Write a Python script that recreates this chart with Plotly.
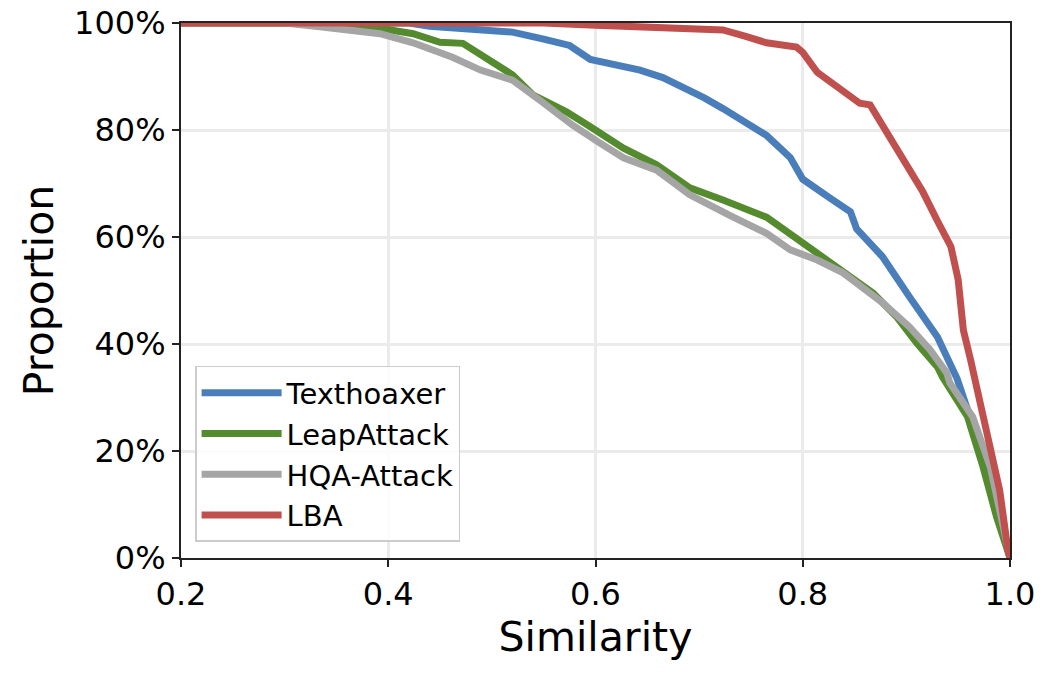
import plotly.graph_objects as go

# Texthoaxer
tx_x = [0.2, 0.42, 0.44, 0.48, 0.52, 0.55, 0.575, 0.595, 0.62, 0.643, 0.665, 0.691, 0.705, 0.723, 0.745, 0.765, 0.788, 0.800, 0.826, 0.846, 0.852, 0.877, 0.903, 0.930, 0.949, 0.962, 0.976, 0.99, 1.0]
tx_y = [100, 100, 99.4, 99.0, 98.3, 97.0, 95.8, 93.2, 92.3, 91.2, 89.8, 87.5, 86.0, 84.0, 81.5, 79.0, 74.8, 70.8, 67.3, 64.7, 61.5, 56.3, 48.8, 41.3, 33.5, 26.0, 18.0, 8.0, 0]

# LeapAttack
la_x = [0.2, 0.33, 0.36, 0.392, 0.424, 0.450, 0.472, 0.495, 0.520, 0.540, 0.572, 0.595, 0.627, 0.659, 0.691, 0.723, 0.765, 0.800, 0.839, 0.868, 0.891, 0.910, 0.930, 0.935, 0.959, 0.974, 0.987, 1.0]
la_y = [100, 100, 99.5, 99.0, 98.0, 96.4, 96.2, 93.5, 90.3, 86.5, 83.4, 80.6, 76.6, 73.5, 69.2, 66.9, 63.7, 58.9, 53.3, 49.5, 45.0, 40.2, 35.7, 33.8, 26.4, 17.0, 7.7, 0]

# HQA-Attack
hq_x = [0.2, 0.30, 0.334, 0.392, 0.424, 0.443, 0.462, 0.489, 0.520, 0.546, 0.578, 0.604, 0.627, 0.659, 0.691, 0.730, 0.765, 0.788, 0.814, 0.839, 0.877, 0.903, 0.923, 0.939, 0.942, 0.964, 0.981, 0.990, 1.0]
hq_y = [100, 100, 99.3, 98.0, 96.3, 95.0, 93.6, 91.2, 89.3, 85.6, 80.9, 77.6, 74.8, 72.5, 67.9, 64.0, 60.7, 57.6, 55.7, 53.3, 47.7, 43.2, 38.9, 34.6, 32.7, 26.4, 17.0, 9.0, 0]

# LBA
lb_x = [0.2, 0.55, 0.60, 0.65, 0.69, 0.723, 0.745, 0.765, 0.794, 0.800, 0.814, 0.839, 0.855, 0.865, 0.884, 0.901, 0.916, 0.930, 0.943, 0.950, 0.955, 0.962, 0.971, 0.981, 0.990, 0.998, 1.0]
lb_y = [100, 100, 99.6, 99.3, 99.0, 98.7, 97.5, 96.3, 95.5, 94.5, 90.8, 87.1, 85.0, 84.7, 78.5, 73.5, 68.4, 63.0, 58.2, 52.0, 42.6, 37.0, 29.5, 20.2, 12.7, 1.5, 0]

series = [
    ("Texthoaxer", tx_x, tx_y, "#4a7ebb"),
    ("LeapAttack", la_x, la_y, "#558b2f"),
    ("HQA-Attack", hq_x, hq_y, "#a5a5a5"),
    ("LBA", lb_x, lb_y, "#c0504d"),
]

fig = go.Figure()
for name, xs, ys, col in series:
    fig.add_trace(go.Scatter(x=xs, y=ys, mode="lines", name=name,
                             line=dict(color=col, width=7)))

font_family = "DejaVu Sans"
axis_common = dict(
    showline=True, linecolor="#222222", linewidth=2, mirror=True,
    ticks="outside", ticklen=7, tickwidth=1.5, tickcolor="#222222",
    showgrid=True, gridcolor="#ebebeb", gridwidth=3, zeroline=False,
    tickfont=dict(size=32, color="black", family=font_family),
    automargin=False,
)

fig.update_layout(
    width=1048, height=675,
    margin=dict(l=181, r=38, t=23, b=117),
    paper_bgcolor="white", plot_bgcolor="white",
    font=dict(family=font_family, color="black"),
    xaxis=dict(range=[0.2, 1.0], tickvals=[0.2, 0.4, 0.6, 0.8, 1.0],
               ticktext=["0.2", "0.4", "0.6", "0.8", "1.0"],
               title=dict(text="Similarity", font=dict(size=41), standoff=8),
               **axis_common),
    yaxis=dict(range=[0, 100], tickvals=[0, 20, 40, 60, 80, 100],
               ticktext=["0%", "20%", "40%", "60%", "80%", "100%"],
               title=dict(text="Proportion", font=dict(size=41), standoff=8),
               **axis_common),
    legend=dict(x=0.017, y=0.03, xanchor="left", yanchor="bottom",
                bgcolor="rgba(255,255,255,0.85)", bordercolor="#cccccc", borderwidth=1.5,
                font=dict(size=29, family=font_family), itemwidth=80,
                tracegroupgap=2),
    showlegend=True,
)

fig.write_html("out.html")
